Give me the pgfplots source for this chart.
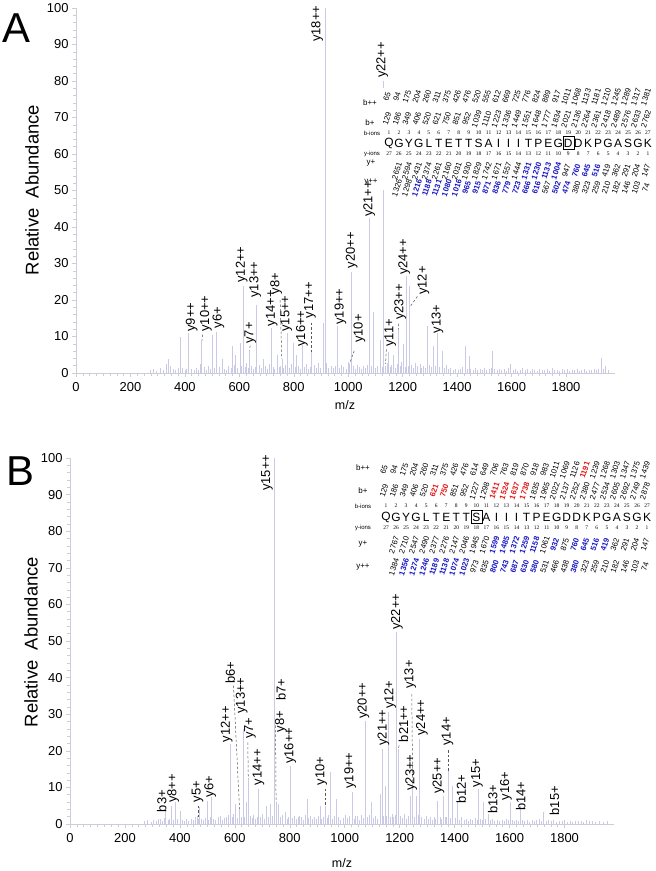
\documentclass[border=0pt]{standalone}
\usepackage{pgfplots}
\usepackage{pgfplotstable}
\pgfplotsset{compat=1.18}
\usepackage{fontspec}
\setmainfont{Liberation Sans}
\newfontfamily\tinyserif{Liberation Serif}

\definecolor{peakc}{RGB}{202,202,230}
\definecolor{axc}{RGB}{205,205,215}
\definecolor{ionblue}{RGB}{25,25,195}
\definecolor{ionred}{RGB}{225,25,25}
\newcommand\Bl[1]{\textcolor{ionblue}{\bfseries #1}}
\newcommand\Rd[1]{\textcolor{ionred}{\bfseries #1}}
\newcommand\numfont{\fontsize{7.8}{7.8}\selectfont}

% peak label: m/z, height of label foot, text
\newcommand\lab[3]{\node[rotate=90,anchor=west,inner sep=0pt,font=\fontsize{13}{13}\selectfont] at (axis cs:#1,#2) {#3};}
\newcommand\dsh[4]{\draw[black!65,dash pattern=on 2.5bp off 2bp,line width=0.5bp] (axis cs:#1,#2) -- (axis cs:#3,#4);}
% rotated number row: x of first column, column step, y, list
\newcommand\ionrow[4]{\foreach \v [count=\i from 0] in {#4}{%
  \node[rotate=72,inner sep=0pt,font=\numfont] at ({(#1+\i*#2-2)*1bp},{-#3*1bp}) {\v};}}
\newcommand\plainrow[5]{\foreach \v [count=\i from 0] in {#4}{%
  \node[inner sep=0pt,font=#5] at ({(#1+\i*#2)*1bp},{-#3*1bp}) {\v};}}

\pgfplotstableread{
mz int
272 0.8
284 1.1
296 0.6
309 1.4
322 0.9
330 2.6
340 3.7
348 1.8
356 1.0
365 0.7
374 1.3
382 10.0
391 1.5
400 0.8
407 1.2
413 11.0
424 1.0
433 0.7
441 1.4
449 0.9
456 2.5
462 8.5
470 1.6
478 0.9
486 1.8
492 1.1
499 10.3
507 1.3
517 11.2
526 1.6
536 3.7
545 1.2
553 0.8
561 1.9
569 1.4
575 7.3
580 2.3
585 5.0
592 1.5
603 8.2
609 1.9
615 23.7
621 1.7
627 2.7
632 1.3
637 6.4
645 2.0
652 1.2
657 1.6
664 18.7
672 2.2
680 1.4
689 3.7
696 1.8
703 1.0
710 2.4
716 12.3
724 1.6
730 1.1
738 5.0
745 1.7
751 2.0
756 3.7
763 1.3
770 2.1
777 11.0
785 1.5
791 2.6
799 8.2
805 1.7
811 5.0
818 1.9
824 1.1
830 7.7
839 1.6
846 2.4
852 1.2
859 1.7
866 6.4
874 2.1
882 1.3
891 2.7
898 1.5
907 13.7
915 100
921 2.8
928 1.5
936 2.0
944 1.3
952 1.8
960 12.8
968 1.4
975 2.2
983 1.6
992 1.1
1000 3.0
1005 2.6
1010 1.5
1013 27.8
1020 1.8
1027 1.2
1034 2.1
1041 1.6
1049 1.0
1056 1.9
1063 1.3
1070 2.3
1077 42.5
1085 1.8
1093 16.8
1100 1.4
1108 2.0
1118 9.0
1124 1.7
1130 80.0
1137 2.0
1142 2.8
1148 5.8
1155 1.6
1160 2.2
1166 4.8
1173 1.5
1179 2.4
1184 11.9
1190 1.8
1195 2.9
1201 8.0
1208 1.7
1213 26.6
1219 2.0
1225 23.8
1232 2.2
1240 1.5
1247 2.7
1255 1.8
1263 2.4
1270 1.3
1277 2.0
1284 1.5
1291 12.8
1297 2.1
1304 1.6
1313 7.3
1320 2.0
1327 10.9
1335 1.7
1344 6.0
1352 1.3
1359 2.1
1368 1.0
1376 1.5
1385 0.9
1394 1.2
1403 0.8
1412 1.1
1420 1.6
1430 7.3
1437 1.2
1443 4.7
1450 1.0
1458 0.8
1467 1.3
1475 0.7
1484 1.1
1492 0.9
1500 1.4
1509 0.7
1517 1.0
1524 1.5
1530 5.9
1538 1.1
1546 0.8
1555 1.2
1563 0.7
1572 1.0
1580 0.6
1588 1.3
1596 2.4
1605 0.8
1614 1.1
1622 0.6
1631 0.9
1640 1.3
1649 0.7
1658 1.0
1667 0.6
1676 1.2
1685 0.8
1694 0.6
1703 1.0
1712 0.7
1721 0.9
1730 1.1
1740 0.6
1749 1.4
1758 0.7
1767 0.9
1776 0.6
1785 1.0
1795 0.7
1804 1.1
1813 0.6
1822 0.9
1831 0.7
1840 1.0
1849 0.6
1858 0.8
1867 1.1
1876 0.6
1885 0.9
1894 0.7
1903 1.0
1912 0.8
1920 1.2
1929 4.1
1937 1.0
1946 2.0
1955 0.7
}\peaksA

\pgfplotstableread{
mz int
272 0.8
283 1.0
295 0.6
304 1.2
313 0.8
321 1.5
328 1.4
336 0.9
342 1.6
348 3.6
356 1.1
363 1.4
370 5.0
376 1.2
382 5.9
390 1.3
400 3.6
408 1.0
416 0.7
424 1.3
432 0.8
440 1.5
448 1.0
455 1.8
462 2.2
466 1.5
470 4.6
477 1.4
484 1.0
491 1.7
498 6.4
505 1.2
510 2.0
516 7.3
523 1.5
530 1.1
538 1.8
546 2.3
553 1.2
560 1.6
568 1.9
576 2.4
583 21.9
590 1.8
596 2.6
601 5.5
608 1.6
617 4.1
623 1.9
630 26.0
636 2.0
641 5.9
649 12.3
655 2.1
662 1.6
668 2.4
675 1.3
680 2.0
686 9.6
692 1.8
700 2.6
707 1.4
716 5.0
722 1.9
728 5.5
735 2.1
743 100
750 5.9
759 5.5
766 1.8
772 2.4
783 3.2
790 1.5
795 2.0
801 15.9
808 1.7
815 2.3
822 1.4
830 1.8
836 2.2
843 1.8
850 1.2
856 2.5
862 6.8
869 1.7
876 2.3
883 1.3
890 1.9
897 1.4
903 2.2
910 5.0
916 1.5
922 1.9
928 5.0
935 1.6
940 2.4
947 14.1
955 1.5
962 2.1
971 6.8
978 2.0
985 1.1
993 1.7
1002 2.5
1010 1.6
1018 2.2
1026 8.7
1033 1.5
1038 2.1
1044 2.3
1052 1.2
1060 2.4
1067 1.6
1074 28.2
1081 1.8
1088 2.5
1098 5.9
1105 1.6
1112 2.2
1120 1.5
1129 8.2
1135 20.5
1141 2.1
1147 10.5
1153 2.2
1159 30.5
1165 2.0
1172 2.6
1178 1.8
1183 2.5
1189 52.4
1195 20.5
1203 2.3
1210 1.7
1217 2.6
1224 1.5
1230 2.2
1238 7.7
1247 11.8
1253 2.0
1260 7.7
1266 2.5
1272 23.2
1280 2.0
1288 1.5
1296 2.3
1303 1.3
1310 1.8
1318 1.2
1325 2.0
1331 1.5
1337 6.4
1346 1.8
1352 1.3
1359 7.7
1366 2.0
1371 1.8
1377 14.6
1385 1.7
1393 10.5
1402 1.6
1410 5.9
1418 1.2
1426 1.8
1434 1.0
1442 1.5
1450 0.9
1458 1.3
1466 1.0
1474 1.7
1481 1.2
1487 9.6
1494 1.4
1500 1.1
1505 5.9
1513 1.3
1523 2.7
1530 1.0
1538 1.4
1546 0.8
1555 1.2
1563 0.7
1572 1.1
1580 0.8
1589 1.3
1595 1.0
1602 5.9
1610 1.0
1618 0.7
1625 1.2
1632 0.9
1638 5.0
1647 1.1
1655 0.7
1664 1.0
1673 0.6
1682 1.1
1690 0.8
1698 1.0
1707 1.3
1715 0.9
1723 3.2
1732 0.8
1741 1.0
1750 0.7
1760 1.2
1770 0.6
1780 0.9
1790 0.7
1800 1.0
1810 0.6
1820 0.8
1830 0.6
1840 0.9
1850 0.7
1860 0.8
1870 0.6
1880 1.0
1890 0.7
1900 0.8
1912 0.6
1925 0.9
1940 0.6
1955 0.8
}\peaksB

\pgfplotsset{spec/.style={
    scale only axis, clip=false,
    axis x line=bottom, axis y line=left,
    axis line style={-, draw=axc, line width=0.6bp},
    xmin=0, xmax=1980, ymin=0, ymax=100,
    xtick={0,200,...,1800}, ytick={0,10,...,100},
    minor x tick num=7, minor y tick num=4,
    tick align=outside,
    major tick length=4bp, minor tick length=2.5bp,
    every tick/.style={draw=axc, line width=0.5bp},
    tick label style={font=\fontsize{13}{13}\selectfont},
    /pgf/number format/assume math mode=true,
    /pgf/number format/set thousands separator={},
    xticklabel style={yshift=-2bp},
  }}

\begin{document}
\begin{tikzpicture}
\path[use as bounding box] (0,0) rectangle (656bp,-871bp);

% ---------------- panel A ----------------
\begin{axis}[spec, at={(76bp,-373bp)}, anchor=south west, width=539bp, height=365bp]
  \addplot[ycomb, draw=peakc, line width=0.6bp, mark=none] table[x=mz, y=int] {\peaksA};
  \lab{425}{11.3}{y9++}
  \lab{477}{11.3}{y10++}
  \lab{523}{12.2}{y6+}
  \lab{609}{24.7}{y12++}
  \lab{640}{8}{y7+}
  \lab{658}{20.6}{y13++}
  \lab{719}{12.8}{y14++}
  \lab{735}{21.5}{y8+}
  \lab{772}{11.3}{y15++}
  \lab{830}{7.2}{y16++}
  \lab{860}{15}{y17++}
  \lab{886}{90.7}{y18++}
  \lab{971}{13.2}{y19++}
  \lab{1013}{28.7}{y20++}
  \lab{1041}{8.2}{y10+}
  \lab{1125}{80.8}{y22++}
  \lab{1154}{7.2}{y11+}
  \lab{1191}{14.5}{y23++}
  \lab{1206}{26.8}{y24++}
  \lab{1276}{21.4}{y12+}
  \lab{1328}{10.9}{y13+}
  \dsh{465}{10.5}{462}{8.5}
  \dsh{640}{7.5}{637}{6.2}
  \dsh{750}{20}{756}{3.9}
  \dsh{866}{13.8}{866}{5.6}
  \dsh{1022}{6.1}{1005}{2.6}
  \dsh{1140}{6.5}{1137}{2.5}
  \dsh{1185}{13.5}{1184}{11.9}
  \dsh{1254}{21}{1227}{18.1}
  \coordinate (A21) at (axis cs:1077,42.7);
\end{axis}

% sequence table A
\fill[white] (352bp,-88bp) rectangle (656bp,-190bp);
\begin{scope}[font=\fontsize{8}{8}\selectfont]
  \node at (370bp,-103bp) {b++};
  \node at (370bp,-123bp) {b+};
  \node[font=\fontsize{6}{6}\selectfont] at (372bp,-133bp) {b-ions};
  \node[font=\fontsize{6}{6}\selectfont] at (372bp,-154bp) {y-ions};
  \node at (371bp,-163bp) {y+};
  \node at (371bp,-182bp) {y++};
\end{scope}
\ionrow{389}{9.96}{97}{65,94,175,204,260,311,375,426,476,520,555,612,669,725,776,824,889,917,1011,1068,1133,1181,1210,1245,1289,1317,1381}
\ionrow{389}{9.96}{119}{129,186,349,406,520,621,750,851,952,1039,1110,1223,1336,1449,1551,1648,1777,1834,2021,2136,2264,2361,2418,2489,2576,2633,2762}
\plainrow{389}{9.96}{133}{1,2,3,4,5,6,7,8,9,10,11,12,13,14,15,16,17,18,19,20,21,22,23,24,25,26,27}{\tinyserif\fontsize{5.5}{5.5}\selectfont}
\plainrow{389}{9.96}{143}{Q,G,Y,G,L,T,E,T,T,S,A,I,I,I,T,P,E,G,D,D,K,P,G,A,S,G,K}{\fontsize{12}{12}\selectfont}
\plainrow{389}{9.96}{154}{27,26,25,24,23,22,21,20,19,18,17,16,15,14,13,12,11,10,9,8,7,6,5,4,3,2,1}{\tinyserif\fontsize{5.5}{5.5}\selectfont}
\ionrow{398.96}{9.96}{171}{2651,2594,2431,2374,2261,2160,2031,1930,1829,1742,1671,1557,1444,\Bl{1331},\Bl{1230},\Bl{1133},\Bl{1004},947,\Bl{760},\Bl{645},\Bl{516},419,362,291,204,147}
\ionrow{398.96}{9.96}{188}{1326,1298,\Bl{1216},\Bl{1188},\Bl{1131},\Bl{1080},\Bl{1016},\Bl{965},\Bl{915},\Bl{871},\Bl{836},\Bl{779},\Bl{723},\Bl{666},\Bl{616},567,\Bl{502},\Bl{474},380,323,259,210,182,146,103,74}
\draw[line width=0.6bp] (568.3bp-5.5bp,-143bp-6.5bp) rectangle (568.3bp+5.5bp,-143bp+6.5bp);
\node[rotate=90,anchor=west,inner sep=0pt,font=\fontsize{13}{13}\selectfont] at (A21) {y21++};

\node[rotate=90,font=\fontsize{18.5}{18.5}\selectfont] at (32bp,-190bp) {Relative\ \ Abundance};
\node[font=\fontsize{12.5}{12.5}\selectfont] at (345bp,-405bp) {m/z};
\node[font=\fontsize{42}{42}\selectfont] at (16bp,-28bp) {A};

% ---------------- panel B ----------------
\begin{axis}[spec, at={(70bp,-824bp)}, anchor=south west, width=544bp, height=366bp]
  \addplot[ycomb, draw=peakc, line width=0.6bp, mark=none] table[x=mz, y=int] {\peaksB};
  \lab{334}{3.2}{b3+}
  \lab{376}{5.7}{y8++}
  \lab{464}{5.9}{y5+}
  \lab{510}{7.3}{y6+}
  \lab{570}{22.3}{y12++}
  \lab{583}{38.3}{b6+}
  \lab{625}{30.1}{y13++}
  \lab{655}{23.2}{y7+}
  \lab{686}{10.5}{y14++}
  \lab{717}{91}{y15++}
  \lab{768}{25}{y8+}
  \lab{768}{33.7}{b7+}
  \lab{801}{16.4}{y16++}
  \lab{914}{10.5}{y10+}
  \lab{1020}{9.6}{y19++}
  \lab{1068}{28.7}{y20++}
  \lab{1141}{21.4}{y21++}
  \lab{1165}{31.4}{y12+}
  \lab{1190}{53}{y22++}
  \lab{1214}{22.3}{b21++}
  \lab{1242}{9.1}{y23++}
  \lab{1238}{36.9}{y13+}
  \lab{1281}{24.1}{y24++}
  \lab{1341}{8.2}{y25++}
  \lab{1374}{21.4}{y14+}
  \lab{1424}{5.5}{b12+}
  \lab{1481}{10}{y15+}
  \lab{1539}{2.7}{b13+}
  \lab{1587}{6.4}{y16+}
  \lab{1641}{3.6}{b14+}
  \lab{1763}{2.3}{b15+}
  \dsh{466}{5}{466}{1.5}
  \dsh{595}{37.8}{617}{4.1}
  \dsh{647}{22.3}{649}{12.3}
  \dsh{748}{28.2}{750}{5.9}
  \dsh{928}{9.6}{928}{5}
  \dsh{1198}{21.5}{1195}{20.5}
  \dsh{1244}{35.5}{1247}{11.8}
  \dsh{1377}{20.1}{1377}{14.6}
\end{axis}

% sequence table B
\fill[white] (352bp,-455bp) rectangle (656bp,-580bp);
\begin{scope}[font=\fontsize{8}{8}\selectfont]
  \node at (363bp,-468bp) {b++};
  \node at (363bp,-491bp) {b+};
  \node[font=\fontsize{6}{6}\selectfont] at (363bp,-506bp) {b-ions};
  \node[font=\fontsize{6}{6}\selectfont] at (363bp,-528bp) {y-ions};
  \node at (363bp,-544bp) {y+};
  \node at (363bp,-567bp) {y++};
\end{scope}
\ionrow{386}{10.04}{470}{65,94,175,204,260,311,375,426,476,614,649,706,763,819,870,918,983,1011,1069,1126,\Rd{1191},1239,1268,1303,1347,1375,1439}
\ionrow{386}{10.04}{491}{129,186,349,406,520,\Rd{621},\Rd{750},851,952,1227,1298,\Rd{1411},\Rd{1524},\Rd{1637},\Rd{1738},1835,1965,2022,2137,2252,2380,2477,2534,2605,2692,2749,2878}
\plainrow{386}{10.04}{506}{1,2,3,4,5,6,7,8,9,10,11,12,13,14,15,16,17,18,19,20,21,22,23,24,25,26,27}{\tinyserif\fontsize{5.5}{5.5}\selectfont}
\plainrow{386}{10.04}{517}{Q,G,Y,G,L,T,E,T,T,S,A,I,I,I,T,P,E,G,D,D,K,P,G,A,S,G,K}{\fontsize{12}{12}\selectfont}
\plainrow{386}{10.04}{528}{27,26,25,24,23,22,21,20,19,18,17,16,15,14,13,12,11,10,9,8,7,6,5,4,3,2,1}{\tinyserif\fontsize{5.5}{5.5}\selectfont}
\ionrow{396.04}{10.04}{545}{2767,2710,2547,2490,2377,2276,2147,2046,1945,1670,\Bl{1599},\Bl{1485},\Bl{1372},\Bl{1259},\Bl{1158},1061,\Bl{932},875,\Bl{760},\Bl{645},\Bl{516},\Bl{419},362,291,204,147}
\ionrow{396.04}{10.04}{567}{1384,\Bl{1356},\Bl{1274},\Bl{1246},\Bl{1189},\Bl{1138},\Bl{1074},\Bl{1023},973,835,\Bl{800},\Bl{743},\Bl{687},\Bl{630},\Bl{580},531,466,438,\Bl{380},323,259,210,182,146,103,74}
\draw[line width=0.6bp] (476.4bp-5.5bp,-517bp-6.5bp) rectangle (476.4bp+5.5bp,-517bp+6.5bp);

\node[rotate=90,font=\fontsize{18.5}{18.5}\selectfont] at (31bp,-642bp) {Relative\ \ Abundance};
\node[font=\fontsize{12.5}{12.5}\selectfont] at (342bp,-863bp) {m/z};
\node[font=\fontsize{42}{42}\selectfont] at (20bp,-471bp) {B};
\end{tikzpicture}
\end{document}
